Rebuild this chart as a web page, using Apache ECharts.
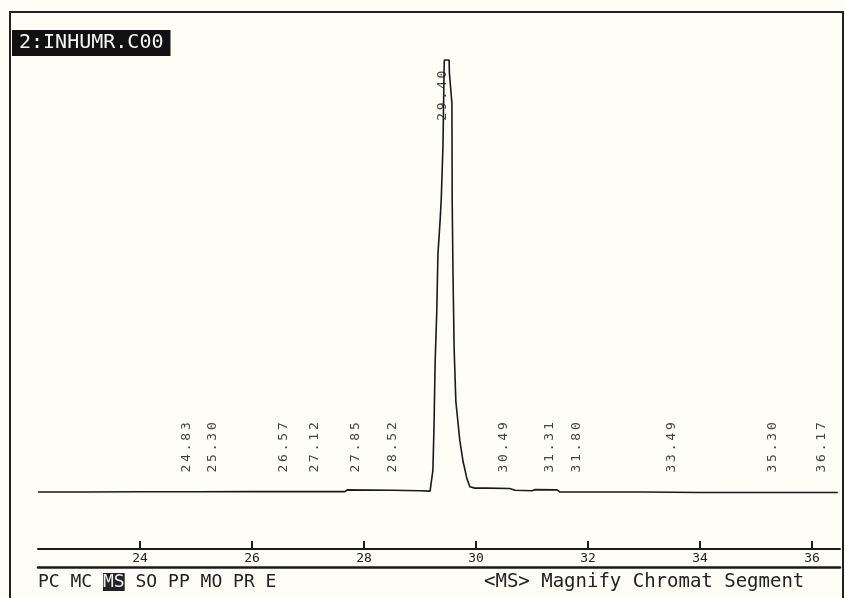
<!DOCTYPE html>
<html>
<head>
<meta charset="utf-8">
<script src="https://cdn.jsdelivr.net/npm/echarts@6/dist/echarts.min.js"></script>
<style>html,body{margin:0;padding:0;background:#fefdf6}#c{width:845px;height:598px}</style>
</head>
<body>
<div id="c"></div>
<script>
// Retention time (min) and detector signal (% of main peak height)
const times = [22.18, 23.0, 24.0, 25.0, 26.0, 27.0, 27.66, 27.70, 28.5, 29.0, 29.18, 29.21, 29.23, 29.25, 29.27, 29.30, 29.32, 29.36, 29.38, 29.41, 29.43, 29.435, 29.52, 29.525, 29.57, 29.575, 29.59, 29.61, 29.64, 29.71, 29.77, 29.84, 29.89, 29.98, 30.2, 30.6, 30.7, 31.0, 31.05, 31.45, 31.5, 33.0, 34.0, 36.0, 36.46];
const signal = [0.0, 0.0, 0.05, 0.05, 0.1, 0.1, 0.1, 0.5, 0.4, 0.3, 0.2, 0.6, 5, 15, 30, 42, 55, 63, 68, 80, 97.7, 100, 100, 97, 90, 67, 50, 33, 21, 12, 7, 3, 1.2, 0.9, 0.9, 0.8, 0.4, 0.3, 0.55, 0.5, 0.0, 0.0, -0.1, -0.1, -0.1];
// Integrated peak labels
const peakTimes = [24.83, 25.30, 26.57, 27.12, 27.85, 28.52, 29.40, 30.49, 31.31, 31.80, 33.49, 35.30, 36.17];
const peakLabels = ["24.83", "25.30", "26.57", "27.12", "27.85", "28.52", "29.40", "30.49", "31.31", "31.80", "33.49", "35.30", "36.17"];
// Axis ticks
const tickValues = [24, 26, 28, 30, 32, 34, 36];
const title = "2:INHUMR.C00";
const menuLeft = ["PC MC ", "MS", " SO PP MO PR E"];
const menuRight = "<MS> Magnify Chromat Segment";

const ink = '#1a1a1a';
const mono = 'DejaVu Sans Mono';
const yMin = -13.19;
const chart = echarts.init(document.getElementById('c'));
const labelAnchor = (t) => (t === 29.40 ? 85.6 : 4.2);

chart.setOption({
  animation: false,
  backgroundColor: '#fefdf6',
  title: {
    text: title,
    left: 12, top: 30,
    padding: [3, 7, 3, 7],
    backgroundColor: '#111',
    textStyle: { color: '#f4f4f4', fontFamily: mono, fontSize: 20, fontWeight: 'normal', lineHeight: 20 }
  },
  grid: { left: 38, right: 5, top: 60, bottom: 49 },
  xAxis: [{
    type: 'value', min: 22.1786, max: 36.5,
    axisLine: { onZero: false, lineStyle: { color: ink, width: 2 } },
    splitLine: { show: false },
    axisTick: { show: false },
    axisLabel: { customValues: tickValues, margin: 3, fontFamily: mono, fontSize: 13, color: '#222' }
  }, {
    type: 'value', min: 22.1786, max: 36.5, position: 'bottom', offset: 18,
    axisLine: { onZero: false, lineStyle: { color: ink, width: 2.5 } },
    splitLine: { show: false }, axisTick: { show: false }, axisLabel: { show: false }
  }],
  yAxis: { type: 'value', min: yMin, max: 100, show: false, splitLine: { show: false } },
  series: [{
    type: 'line',
    data: times.map((t, i) => [t, signal[i]]),
    symbol: 'none',
    clip: false,
    lineStyle: { color: ink, width: 1.6 }
  }, {
    type: 'scatter',
    symbolSize: 0,
    data: peakTimes.map((t, i) => ({ name: peakLabels[i], value: [t, labelAnchor(t)] })),
    label: {
      show: true,
      position: 'inside',
      rotate: 90,
      align: 'left',
      verticalAlign: 'middle',
      formatter: (p) => p.name.split('').map(c => '{d|' + c + '}').join(''),
      rich: { d: { width: 10.6, align: 'center', fontFamily: mono, fontSize: 13, color: '#111' } }
    }
  }, {
    // tick marks pointing up from the time axis
    type: 'scatter',
    data: tickValues.map(v => [v, yMin]),
    symbol: 'rect',
    symbolSize: [2, 8],
    symbolOffset: [0, -4],
    clip: false,
    z: 10,
    itemStyle: { color: ink, opacity: 1 },
    silent: true
  }],
  graphic: [
    { type: 'rect', shape: { x: 10, y: 12, width: 833, height: 600 }, style: { fill: 'none', stroke: '#222', lineWidth: 2 }, silent: true },
    {
      type: 'text', left: 38, top: 573,
      style: {
        text: '{n|' + menuLeft[0] + '}{h|' + menuLeft[1] + '}{n|' + menuLeft[2] + '}',
        rich: {
          n: { fontFamily: mono, fontSize: 18, fill: '#222', lineHeight: 20 },
          h: { fontFamily: mono, fontSize: 18, fill: '#eee', backgroundColor: '#222', lineHeight: 20 }
        }
      }
    },
    { type: 'text', left: 484, top: 573, style: { text: menuRight, fontFamily: mono, fontSize: 19, fill: '#222' } }
  ]
});
</script>
</body>
</html>
